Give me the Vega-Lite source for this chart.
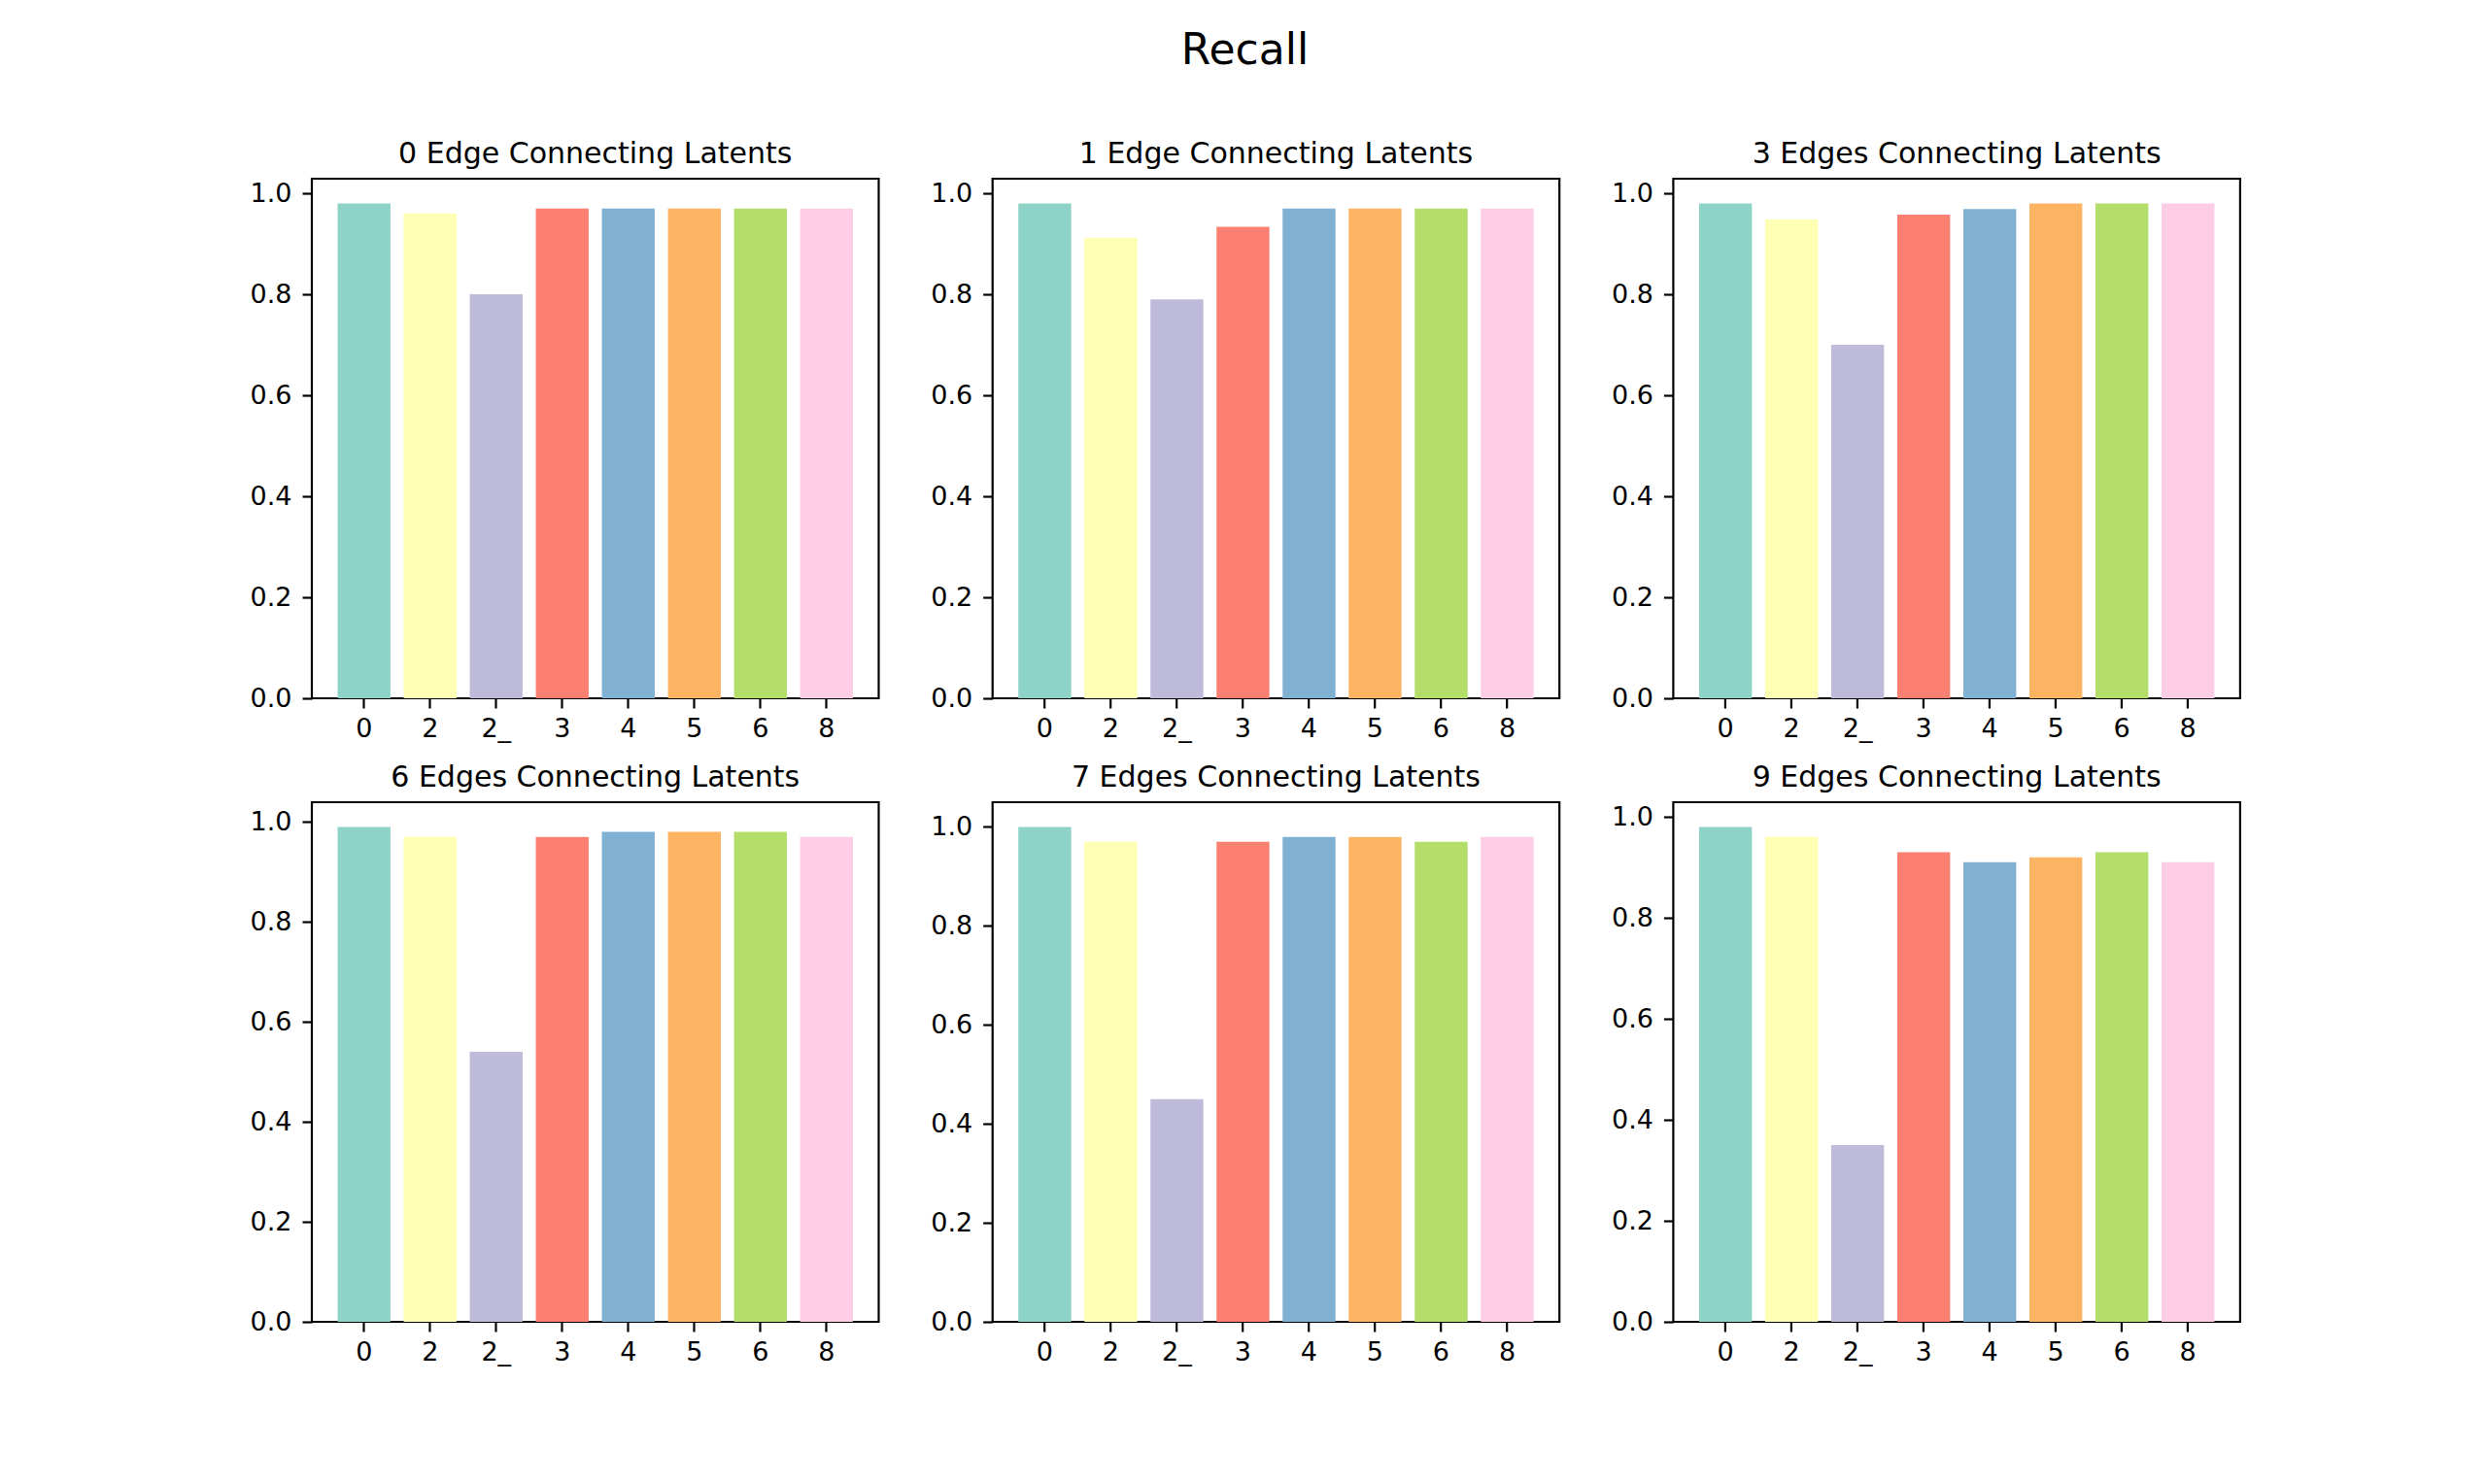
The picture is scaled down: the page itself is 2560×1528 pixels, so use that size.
{
  "$schema": "https://vega.github.io/schema/vega-lite/v6.json",
  "background": "white",
  "padding": {"left": 255, "top": 30, "right": 0, "bottom": 0},
  "title": {
    "text": "Recall",
    "fontSize": 44,
    "fontWeight": "normal",
    "anchor": "middle",
    "frame": "bounds",
    "baseline": "alphabetic",
    "offset": 33
  },
  "data": {
    "values": [
      {"panel": "0 Edge Connecting Latents", "latent": "0", "recall": 0.98},
      {"panel": "0 Edge Connecting Latents", "latent": "2", "recall": 0.96},
      {"panel": "0 Edge Connecting Latents", "latent": "2_", "recall": 0.80},
      {"panel": "0 Edge Connecting Latents", "latent": "3", "recall": 0.97},
      {"panel": "0 Edge Connecting Latents", "latent": "4", "recall": 0.97},
      {"panel": "0 Edge Connecting Latents", "latent": "5", "recall": 0.97},
      {"panel": "0 Edge Connecting Latents", "latent": "6", "recall": 0.97},
      {"panel": "0 Edge Connecting Latents", "latent": "8", "recall": 0.97},
      {"panel": "1 Edge Connecting Latents", "latent": "0", "recall": 0.98},
      {"panel": "1 Edge Connecting Latents", "latent": "2", "recall": 0.912},
      {"panel": "1 Edge Connecting Latents", "latent": "2_", "recall": 0.79},
      {"panel": "1 Edge Connecting Latents", "latent": "3", "recall": 0.934},
      {"panel": "1 Edge Connecting Latents", "latent": "4", "recall": 0.97},
      {"panel": "1 Edge Connecting Latents", "latent": "5", "recall": 0.97},
      {"panel": "1 Edge Connecting Latents", "latent": "6", "recall": 0.97},
      {"panel": "1 Edge Connecting Latents", "latent": "8", "recall": 0.97},
      {"panel": "3 Edges Connecting Latents", "latent": "0", "recall": 0.98},
      {"panel": "3 Edges Connecting Latents", "latent": "2", "recall": 0.948},
      {"panel": "3 Edges Connecting Latents", "latent": "2_", "recall": 0.70},
      {"panel": "3 Edges Connecting Latents", "latent": "3", "recall": 0.958},
      {"panel": "3 Edges Connecting Latents", "latent": "4", "recall": 0.969},
      {"panel": "3 Edges Connecting Latents", "latent": "5", "recall": 0.98},
      {"panel": "3 Edges Connecting Latents", "latent": "6", "recall": 0.98},
      {"panel": "3 Edges Connecting Latents", "latent": "8", "recall": 0.98},
      {"panel": "6 Edges Connecting Latents", "latent": "0", "recall": 0.99},
      {"panel": "6 Edges Connecting Latents", "latent": "2", "recall": 0.97},
      {"panel": "6 Edges Connecting Latents", "latent": "2_", "recall": 0.54},
      {"panel": "6 Edges Connecting Latents", "latent": "3", "recall": 0.97},
      {"panel": "6 Edges Connecting Latents", "latent": "4", "recall": 0.98},
      {"panel": "6 Edges Connecting Latents", "latent": "5", "recall": 0.98},
      {"panel": "6 Edges Connecting Latents", "latent": "6", "recall": 0.98},
      {"panel": "6 Edges Connecting Latents", "latent": "8", "recall": 0.97},
      {"panel": "7 Edges Connecting Latents", "latent": "0", "recall": 1.00},
      {"panel": "7 Edges Connecting Latents", "latent": "2", "recall": 0.97},
      {"panel": "7 Edges Connecting Latents", "latent": "2_", "recall": 0.45},
      {"panel": "7 Edges Connecting Latents", "latent": "3", "recall": 0.97},
      {"panel": "7 Edges Connecting Latents", "latent": "4", "recall": 0.98},
      {"panel": "7 Edges Connecting Latents", "latent": "5", "recall": 0.98},
      {"panel": "7 Edges Connecting Latents", "latent": "6", "recall": 0.97},
      {"panel": "7 Edges Connecting Latents", "latent": "8", "recall": 0.98},
      {"panel": "9 Edges Connecting Latents", "latent": "0", "recall": 0.98},
      {"panel": "9 Edges Connecting Latents", "latent": "2", "recall": 0.96},
      {"panel": "9 Edges Connecting Latents", "latent": "2_", "recall": 0.35},
      {"panel": "9 Edges Connecting Latents", "latent": "3", "recall": 0.93},
      {"panel": "9 Edges Connecting Latents", "latent": "4", "recall": 0.91},
      {"panel": "9 Edges Connecting Latents", "latent": "5", "recall": 0.92},
      {"panel": "9 Edges Connecting Latents", "latent": "6", "recall": 0.93},
      {"panel": "9 Edges Connecting Latents", "latent": "8", "recall": 0.91}
    ]
  },
  "columns": 3,
  "bounds": "flush",
  "spacing": {"row": 107, "column": 116.7},
  "concat": [
    {
      "title": "0 Edge Connecting Latents",
      "width": 583.5, "height": 535,
      "transform": [{"filter": "datum.panel === '0 Edge Connecting Latents'"}],
      "mark": "bar",
      "encoding": {
        "x": {"field": "latent", "type": "nominal", "sort": ["0", "2", "2_", "3", "4", "5", "6", "8"], "scale": {"paddingInner": 0.2, "paddingOuter": 0.39}, "axis": {"title": null, "labelAngle": 0}},
        "y": {"field": "recall", "type": "quantitative", "scale": {"domain": [0, 1.029], "nice": false}, "axis": {"title": null, "values": [0, 0.2, 0.4, 0.6, 0.8, 1.0], "format": ".1f", "labelPadding": 11}},
        "color": {"field": "latent", "type": "nominal", "scale": {"domain": ["0", "2", "2_", "3", "4", "5", "6", "8"], "range": ["#8dd3c7", "#ffffb3", "#bebada", "#fb8072", "#80b1d3", "#fdb462", "#b3de69", "#fccde5"]}, "legend": null}
      }
    },
    {
      "title": "1 Edge Connecting Latents",
      "width": 583.5, "height": 535,
      "transform": [{"filter": "datum.panel === '1 Edge Connecting Latents'"}],
      "mark": "bar",
      "encoding": {
        "x": {"field": "latent", "type": "nominal", "sort": ["0", "2", "2_", "3", "4", "5", "6", "8"], "scale": {"paddingInner": 0.2, "paddingOuter": 0.39}, "axis": {"title": null, "labelAngle": 0}},
        "y": {"field": "recall", "type": "quantitative", "scale": {"domain": [0, 1.029], "nice": false}, "axis": {"title": null, "values": [0, 0.2, 0.4, 0.6, 0.8, 1.0], "format": ".1f", "labelPadding": 11}},
        "color": {"field": "latent", "type": "nominal", "scale": {"domain": ["0", "2", "2_", "3", "4", "5", "6", "8"], "range": ["#8dd3c7", "#ffffb3", "#bebada", "#fb8072", "#80b1d3", "#fdb462", "#b3de69", "#fccde5"]}, "legend": null}
      }
    },
    {
      "title": "3 Edges Connecting Latents",
      "width": 583.5, "height": 535,
      "transform": [{"filter": "datum.panel === '3 Edges Connecting Latents'"}],
      "mark": "bar",
      "encoding": {
        "x": {"field": "latent", "type": "nominal", "sort": ["0", "2", "2_", "3", "4", "5", "6", "8"], "scale": {"paddingInner": 0.2, "paddingOuter": 0.39}, "axis": {"title": null, "labelAngle": 0}},
        "y": {"field": "recall", "type": "quantitative", "scale": {"domain": [0, 1.029], "nice": false}, "axis": {"title": null, "values": [0, 0.2, 0.4, 0.6, 0.8, 1.0], "format": ".1f", "labelPadding": 11}},
        "color": {"field": "latent", "type": "nominal", "scale": {"domain": ["0", "2", "2_", "3", "4", "5", "6", "8"], "range": ["#8dd3c7", "#ffffb3", "#bebada", "#fb8072", "#80b1d3", "#fdb462", "#b3de69", "#fccde5"]}, "legend": null}
      }
    },
    {
      "title": "6 Edges Connecting Latents",
      "width": 583.5, "height": 535,
      "transform": [{"filter": "datum.panel === '6 Edges Connecting Latents'"}],
      "mark": "bar",
      "encoding": {
        "x": {"field": "latent", "type": "nominal", "sort": ["0", "2", "2_", "3", "4", "5", "6", "8"], "scale": {"paddingInner": 0.2, "paddingOuter": 0.39}, "axis": {"title": null, "labelAngle": 0}},
        "y": {"field": "recall", "type": "quantitative", "scale": {"domain": [0, 1.0395], "nice": false}, "axis": {"title": null, "values": [0, 0.2, 0.4, 0.6, 0.8, 1.0], "format": ".1f", "labelPadding": 11}},
        "color": {"field": "latent", "type": "nominal", "scale": {"domain": ["0", "2", "2_", "3", "4", "5", "6", "8"], "range": ["#8dd3c7", "#ffffb3", "#bebada", "#fb8072", "#80b1d3", "#fdb462", "#b3de69", "#fccde5"]}, "legend": null}
      }
    },
    {
      "title": "7 Edges Connecting Latents",
      "width": 583.5, "height": 535,
      "transform": [{"filter": "datum.panel === '7 Edges Connecting Latents'"}],
      "mark": "bar",
      "encoding": {
        "x": {"field": "latent", "type": "nominal", "sort": ["0", "2", "2_", "3", "4", "5", "6", "8"], "scale": {"paddingInner": 0.2, "paddingOuter": 0.39}, "axis": {"title": null, "labelAngle": 0}},
        "y": {"field": "recall", "type": "quantitative", "scale": {"domain": [0, 1.05], "nice": false}, "axis": {"title": null, "values": [0, 0.2, 0.4, 0.6, 0.8, 1.0], "format": ".1f", "labelPadding": 11}},
        "color": {"field": "latent", "type": "nominal", "scale": {"domain": ["0", "2", "2_", "3", "4", "5", "6", "8"], "range": ["#8dd3c7", "#ffffb3", "#bebada", "#fb8072", "#80b1d3", "#fdb462", "#b3de69", "#fccde5"]}, "legend": null}
      }
    },
    {
      "title": "9 Edges Connecting Latents",
      "width": 583.5, "height": 535,
      "transform": [{"filter": "datum.panel === '9 Edges Connecting Latents'"}],
      "mark": "bar",
      "encoding": {
        "x": {"field": "latent", "type": "nominal", "sort": ["0", "2", "2_", "3", "4", "5", "6", "8"], "scale": {"paddingInner": 0.2, "paddingOuter": 0.39}, "axis": {"title": null, "labelAngle": 0}},
        "y": {"field": "recall", "type": "quantitative", "scale": {"domain": [0, 1.029], "nice": false}, "axis": {"title": null, "values": [0, 0.2, 0.4, 0.6, 0.8, 1.0], "format": ".1f", "labelPadding": 11}},
        "color": {"field": "latent", "type": "nominal", "scale": {"domain": ["0", "2", "2_", "3", "4", "5", "6", "8"], "range": ["#8dd3c7", "#ffffb3", "#bebada", "#fb8072", "#80b1d3", "#fdb462", "#b3de69", "#fccde5"]}, "legend": null}
      }
    }
  ],
  "resolve": {"scale": {"x": "independent", "y": "independent"}},
  "config": {
    "font": "DejaVu Sans",
    "view": {"stroke": "black", "strokeWidth": 2.2},
    "axis": {
      "domain": false,
      "grid": false,
      "ticks": true,
      "tickColor": "black",
      "tickWidth": 2.2,
      "tickSize": 10,
      "labelFont": "DejaVu Sans",
      "labelFontSize": 27,
      "labelColor": "black",
      "labelPadding": 8
    },
    "title": {
      "font": "DejaVu Sans",
      "fontSize": 30,
      "fontWeight": "normal",
      "color": "black",
      "baseline": "alphabetic",
      "offset": 10,
      "frame": "group"
    }
  }
}
